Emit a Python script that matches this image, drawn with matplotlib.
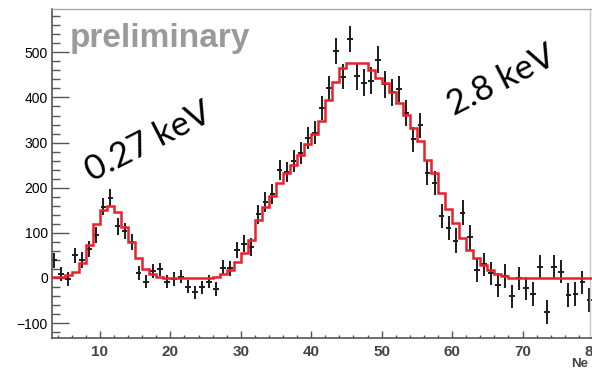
import numpy as np
import matplotlib
matplotlib.use("Agg")
import matplotlib.pyplot as plt
from matplotlib.ticker import MultipleLocator

# binning of the Ne spectrum (1 unit wide bins from 3 to 80)
bin_lo = 3
bin_hi = 80

# background subtracted counts per bin
counts = [39, 9, -2, 50, 40, 64, 96, 158, 178, 115,
          104, 80, 11, -8, 16, 19, -8, -2, 3, -19,
          -32, -21, -8, -25, 23, 21, 62, 76, 68, 141,
          168, 187, 239, 235, 259, 277, 310, 322, 377, 421,
          503, 446, 530, 447, 433, 437, 484, 429, 411, 418,
          366, 307, 338, 233, 211, 138, 111, 83, 145, 90,
          18, 30, 10, -16, 4, -41, -1, -23, -36, 25,
          -75, 25, 14, -38, -36, -10, -49]

errors = [17, 16, 16, 17, 17, 18, 18, 19, 19, 19,
          18, 18, 16, 15, 15, 15, 15, 15, 15, 15,
          15, 15, 15, 15, 16, 17, 18, 19, 20, 21,
          22, 22, 23, 23, 24, 24, 25, 25, 26, 27,
          28, 28, 29, 30, 30, 30, 30, 30, 29, 29,
          29, 28, 28, 28, 27, 27, 27, 27, 27, 27,
          26, 26, 26, 26, 26, 26, 26, 26, 26, 26,
          26, 26, 26, 26, 26, 26, 26]

# fitted model (two peaks), same binning
fit = [2, 3, 7, 13, 33, 74, 119, 150, 160, 146,
       114, 79, 44, 20, 8, 3, 1, 0, 0, 0,
       0, 0, 1, 3, 8, 18, 35, 56, 84, 129,
       158, 181, 210, 233, 251, 273, 296, 318, 347, 395,
       435, 466, 477, 477, 477, 460, 444, 432, 412, 388,
       362, 333, 303, 262, 233, 188, 153, 122, 88, 62,
       44, 29, 18, 9, 4, 1, 0, 0, 0, 0,
       0, 0, 0, 0, 0, 0, 0]

edges = np.arange(bin_lo, bin_hi + 1)
centers = 0.5 * (edges[:-1] + edges[1:])

plt.rcParams['font.family'] = ['Liberation Sans', 'DejaVu Sans']

fig = plt.figure(figsize=(5.92, 3.71), dpi=100)
ax = fig.add_axes([52 / 592, 33 / 371, 541 / 592, 329 / 371])

ax.stairs(fit, edges, color='#e8212b', linewidth=1.8, zorder=3)
ax.errorbar(centers, counts, yerr=errors, xerr=0.4, fmt='none',
            ecolor='#1c1c1c', elinewidth=1.4, capsize=0, zorder=2)

ax.set_xlim(3.2, 80)
ax.set_ylim(-133, 596)

ax.xaxis.set_major_locator(MultipleLocator(10))
ax.xaxis.set_minor_locator(MultipleLocator(2))
ax.yaxis.set_major_locator(MultipleLocator(100))
ax.yaxis.set_minor_locator(MultipleLocator(20))

axis_col = '#555555'
ax.tick_params(axis='y', which='major', direction='in', length=12, width=1.0,
               color=axis_col, pad=3)
ax.tick_params(axis='y', which='minor', direction='in', length=6, width=1.0,
               color=axis_col)
ax.tick_params(axis='x', which='major', direction='in', length=5, width=1.0,
               color=axis_col, pad=5)
ax.tick_params(axis='x', which='minor', direction='in', length=2.5, width=1.0,
               color=axis_col)
ax.tick_params(which='both', top=False, right=False)
for lab in ax.get_xticklabels() + ax.get_yticklabels():
    lab.set_fontweight('bold')
    lab.set_fontsize(11)
    lab.set_color('#444444')

for side in ['left', 'bottom']:
    ax.spines[side].set_color(axis_col)
    ax.spines[side].set_linewidth(1.2)
ax.spines['top'].set_color('#a8a8a8')
ax.spines['top'].set_linewidth(1.0)
ax.spines['right'].set_position(('data', 79.6))
ax.spines['right'].set_color('#c8c8c8')
ax.spines['right'].set_linewidth(1.0)

ax.text(0.033, 0.884, 'preliminary', transform=ax.transAxes,
        fontsize=24, fontweight='bold', color='#9a9a9a',
        ha='left', va='baseline')

ax.text(8.9, 212, '0.27 keV', rotation=27, rotation_mode='anchor',
        ha='left', va='baseline', fontsize=25, family='Lato',
        color='black')
ax.text(60.2, 360, '2.8 keV', rotation=27, rotation_mode='anchor',
        ha='left', va='baseline', fontsize=25, family='Lato',
        color='black')

fig.text(571 / 592, 1 / 371, 'Ne', ha='left', va='bottom',
         fontsize=9.5, fontweight='bold', color='#444444')

fig.savefig('out.png', dpi=100)
